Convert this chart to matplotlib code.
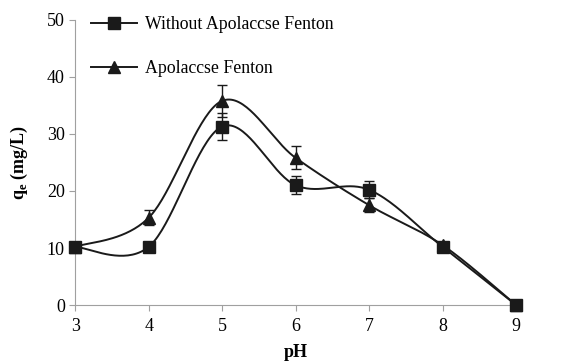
import numpy as np
import matplotlib
matplotlib.use("Agg")
from matplotlib import pyplot as plt

plt.rcParams['font.family'] = ['Liberation Serif', 'DejaVu Serif']

ph = [3, 4, 5, 6, 7, 8, 9]
without = [10.2, 10.2, 31.3, 21.0, 20.2, 10.2, 0.0]
without_err = [0.0, 0.0, 2.3, 1.6, 1.5, 0.8, 0.0]
fenton = [10.2, 15.3, 35.8, 25.8, 17.5, 10.5, 0.0]
fenton_err = [0.0, 1.3, 2.8, 2.0, 1.2, 0.6, 0.0]


def smooth(x, y, n=40):
    # Excel-like smoothed line (Catmull-Rom as cubic Bezier)
    p = np.column_stack([x, y]).astype(float)
    pts = [p[0]]
    for i in range(len(p) - 1):
        p0 = p[i - 1] if i > 0 else p[i]
        p3 = p[i + 2] if i + 2 < len(p) else p[i + 1]
        c1 = p[i] + (p[i + 1] - p0) / 6
        c2 = p[i + 1] - (p3 - p[i]) / 6
        t = np.linspace(0, 1, n)[1:, None]
        seg = ((1 - t) ** 3 * p[i] + 3 * (1 - t) ** 2 * t * c1
               + 3 * (1 - t) * t ** 2 * c2 + t ** 3 * p[i + 1])
        pts.extend(seg)
    pts = np.array(pts)
    return pts[:, 0], pts[:, 1]


fig = plt.figure(figsize=(5.61, 3.61), dpi=100)
ax = fig.add_axes([0.134, 0.155, 0.786, 0.79])

for y, err, m, lab in [(without, without_err, 's', 'Without Apolaccse Fenton'),
                       (fenton, fenton_err, '^', 'Apolaccse Fenton')]:
    sx, sy = smooth(ph, y)
    ax.plot(sx, sy, color='#1a1a1a', lw=1.4, zorder=2, clip_on=False)
    ax.errorbar(ph, y, yerr=err, fmt='none', ecolor='#1a1a1a', elinewidth=1.0,
                capsize=3.5, capthick=1.0, zorder=3)
    ax.plot(ph, y, ls='none', marker=m, ms=8.5, color='#1a1a1a', zorder=4, clip_on=False)
    ax.plot([], [], color='#1a1a1a', lw=1.4, marker=m, ms=8.5, label=lab)

ax.set_xlim(3, 9)
ax.set_ylim(0, 50)
ax.set_xticks(range(3, 10))
ax.set_yticks(range(0, 51, 10))
for s in ['top', 'right']:
    ax.spines[s].set_visible(False)
for s in ['left', 'bottom']:
    ax.spines[s].set_color('#a0a0a0')
ax.tick_params(colors='#a0a0a0', labelcolor='black', labelsize=13, direction='out', length=4)
ax.tick_params(axis='x', pad=5)
ax.set_xlabel('pH', fontsize=13, fontweight='bold', labelpad=7)
ax.set_ylabel(r'q$_\mathregular{e}$ (mg/L)', fontsize=13, fontweight='bold', labelpad=12)

ax.legend(loc='upper left', bbox_to_anchor=(0.0, 1.07), frameon=False, fontsize=12.8,
          labelspacing=1.55, handlelength=2.6, handletextpad=0.45)
fig.savefig('out.png', dpi=100)
